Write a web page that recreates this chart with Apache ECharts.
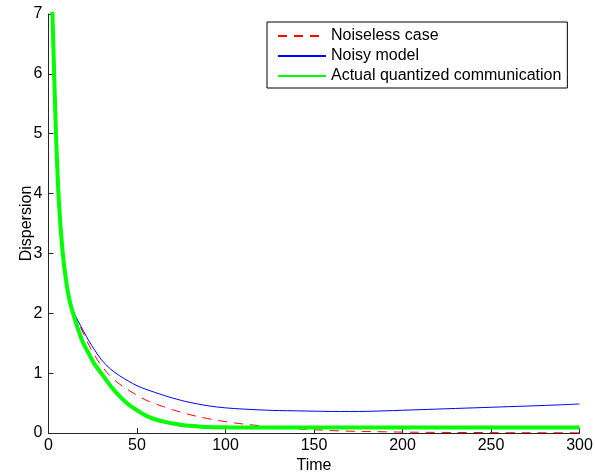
<!DOCTYPE html>
<html>
<head>
<meta charset="utf-8">
<script src="https://cdn.jsdelivr.net/npm/echarts@6/dist/echarts.min.js"></script>
<style>
html,body{margin:0;padding:0;background:#fff;}
#chart{width:595px;height:472px;}
</style>
</head>
<body>
<div id="chart"></div>
<script>
// Time samples (shared by all series)
var time = [1, 2, 3, 4, 5, 6, 8, 10, 12, 15, 18, 20, 23, 26, 30, 35, 40, 45, 50, 55, 60, 65, 70, 75, 80, 90, 100, 110, 120, 130, 140, 150, 160, 170, 180, 190, 200, 220, 240, 260, 280, 300];

var noiseless = [8.4, 7.25, 6.2, 5.2, 4.4, 3.8, 3.02, 2.53, 2.2, 1.96, 1.77, 1.645, 1.46, 1.3, 1.12, 0.95, 0.82, 0.72, 0.63, 0.55, 0.49, 0.44, 0.39, 0.345, 0.305, 0.24, 0.19, 0.15, 0.12, 0.09, 0.07, 0.055, 0.04, 0.03, 0.025, 0.02, 0.015, 0.01, 0.008, 0.005, 0.004, 0.003];

var noisy = [8.4, 7.25, 6.2, 5.2, 4.4, 3.8, 3.02, 2.53, 2.2, 1.97, 1.8, 1.69, 1.53, 1.39, 1.22, 1.07, 0.96, 0.87, 0.79, 0.73, 0.68, 0.63, 0.585, 0.545, 0.51, 0.455, 0.42, 0.40, 0.385, 0.375, 0.37, 0.365, 0.36, 0.36, 0.362, 0.37, 0.38, 0.40, 0.42, 0.44, 0.46, 0.485];

var quantized = [8.4, 7.25, 6.2, 5.2, 4.4, 3.8, 3.02, 2.53, 2.2, 1.89, 1.62, 1.48, 1.31, 1.15, 0.99, 0.79, 0.62, 0.48, 0.38, 0.29, 0.23, 0.19, 0.16, 0.135, 0.12, 0.10, 0.095, 0.09, 0.09, 0.09, 0.09, 0.09, 0.09, 0.09, 0.09, 0.09, 0.09, 0.09, 0.09, 0.09, 0.09, 0.09];

var seriesNames = ['Noiseless case', 'Noisy model', 'Actual quantized communication'];
var xTicks = {min: 0, max: 300, interval: 50};
var yTicks = {min: 0, max: 7, interval: 1};

function pairs(ys) {
  return time.map(function (t, i) { return [t, ys[i]]; });
}

var font = '"Liberation Sans", Arial, Helvetica, sans-serif';
var chart = echarts.init(document.getElementById('chart'), null, {renderer: 'canvas'});

var axisCommon = {
  axisLine: {show: true, lineStyle: {color: '#262626', width: 1}},
  axisTick: {show: true, inside: true, length: 5, lineStyle: {color: '#262626', width: 1}},
  splitLine: {show: false},
  axisLabel: {color: '#000', fontSize: 16, fontFamily: font},
  nameTextStyle: {color: '#000', fontSize: 16, fontFamily: font}
};

chart.setOption({
  animation: false,
  backgroundColor: '#fff',
  grid: {left: 48.5, right: 15.5, top: 14, bottom: 39, containLabel: false, outerBoundsMode: 'none'},
  legend: {
    show: true,
    orient: 'vertical',
    left: 267,
    top: 22,
    padding: [4, 6, 2, 10],
    borderColor: '#000',
    borderWidth: 1,
    backgroundColor: '#fff',
    itemWidth: 48,
    itemHeight: 20,
    itemGap: 0,
    itemStyle: {opacity: 0},
    textStyle: {color: '#000', fontSize: 16, fontFamily: font, lineHeight: 20},
    data: seriesNames
  },
  xAxis: Object.assign({}, axisCommon, {
    type: 'value',
    min: xTicks.min, max: xTicks.max, interval: xTicks.interval,
    name: 'Time',
    nameLocation: 'middle',
    nameGap: 25,
    nameMoveOverlap: false,
    axisLabel: Object.assign({}, axisCommon.axisLabel, {margin: 5})
  }),
  yAxis: Object.assign({}, axisCommon, {
    type: 'value',
    min: yTicks.min, max: yTicks.max, interval: yTicks.interval,
    name: 'Dispersion',
    nameLocation: 'middle',
    nameGap: 14,
    nameMoveOverlap: false,
    axisLabel: Object.assign({}, axisCommon.axisLabel, {margin: 6})
  }),
  series: [
    {
      name: seriesNames[0], type: 'line', data: pairs(noiseless),
      symbol: 'none', smooth: 0.35, clip: true,
      lineStyle: {color: '#ff0000', width: 1, type: [9, 7]},
      itemStyle: {color: '#ff0000'}
    },
    {
      name: seriesNames[1], type: 'line', data: pairs(noisy),
      symbol: 'none', smooth: 0.35, clip: true,
      lineStyle: {color: '#0000ff', width: 1},
      itemStyle: {color: '#0000ff'}
    },
    {
      name: seriesNames[2], type: 'line', data: pairs(quantized),
      symbol: 'none', smooth: 0.35, clip: true,
      lineStyle: {color: '#00ff00', width: 4},
      itemStyle: {color: '#00ff00'}
    }
  ]
});
</script>
</body>
</html>
